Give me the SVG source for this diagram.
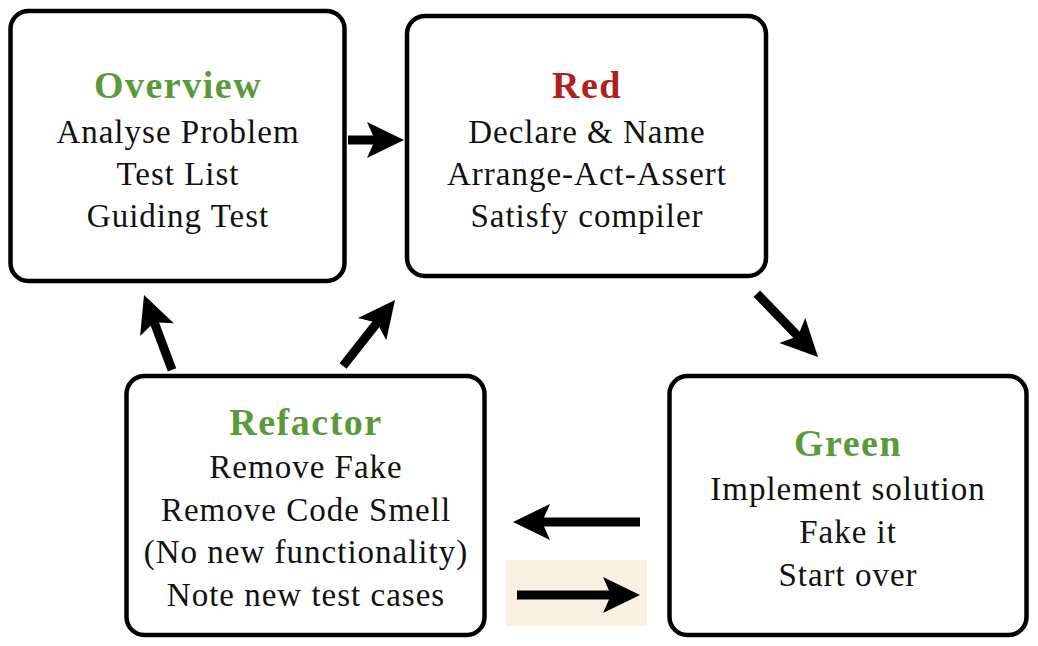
<svg xmlns="http://www.w3.org/2000/svg" xmlns:xlink="http://www.w3.org/1999/xlink" width="1038" height="646" viewBox="0 0 1038 646">
<style>
.box{fill:#fff;stroke:#000;stroke-width:4.5}
.t{font-family:"Liberation Serif","Times New Roman",serif;font-size:33px;letter-spacing:1px;text-anchor:middle;fill:#111}
.h{font-family:"Liberation Serif","Times New Roman",serif;font-size:38px;font-weight:bold;letter-spacing:1.5px;text-anchor:middle}
.g{fill:#5B9A3B}
.r{fill:#B01E1E}
.shaft{stroke:#000;stroke-width:9;fill:none}
</style>
<defs>
<polygon id="head" points="0,0 -37,-18 -29,0 -37,18" fill="#000"/>
</defs>
<rect width="1038" height="646" fill="#fff"/>
<g id="overview">
<rect class="box" x="10.5" y="11" width="334" height="270" rx="18"/>
<text class="h g" x="178" y="98">Overview</text>
<text class="t" x="178" y="143">Analyse Problem</text>
<text class="t" x="178" y="185">Test List</text>
<text class="t" x="178" y="227">Guiding Test</text>
</g>
<g id="red">
<rect class="box" x="407" y="16" width="359" height="260" rx="18"/>
<text class="h r" x="587" y="98">Red</text>
<text class="t" x="587" y="143">Declare &amp; Name</text>
<text class="t" x="587" y="185">Arrange-Act-Assert</text>
<text class="t" x="587" y="227">Satisfy compiler</text>
</g>
<g id="refactor">
<rect class="box" x="126.5" y="376" width="358" height="259" rx="18"/>
<text class="h g" x="306" y="435">Refactor</text>
<text class="t" x="306" y="478">Remove Fake</text>
<text class="t" x="306" y="521">Remove Code Smell</text>
<text class="t" x="306" y="563">(No new functionality)</text>
<text class="t" x="306" y="606">Note new test cases</text>
</g>
<g id="green">
<rect class="box" x="669.5" y="376" width="357" height="259" rx="18"/>
<text class="h g" x="848" y="456">Green</text>
<text class="t" x="848" y="500">Implement solution</text>
<text class="t" x="848" y="543">Fake it</text>
<text class="t" x="848" y="586">Start over</text>
</g>
<g id="connectors">
<rect x="506" y="560" width="141" height="66" fill="#FAF0E1"/>
<g transform="translate(404,140)"><line class="shaft" x1="-56" y1="0" x2="-28" y2="0"/><use xlink:href="#head"/></g>
<g transform="translate(818,357) rotate(46)"><line class="shaft" x1="-88" y1="0" x2="-28" y2="0"/><use xlink:href="#head"/></g>
<g transform="translate(144,295) rotate(-110.5)"><line class="shaft" x1="-80" y1="0" x2="-28" y2="0"/><use xlink:href="#head"/></g>
<g transform="translate(395,300) rotate(-51.8)"><line class="shaft" x1="-84" y1="0" x2="-28" y2="0"/><use xlink:href="#head"/></g>
<g transform="translate(513,522) rotate(180)"><line class="shaft" x1="-127" y1="0" x2="-28" y2="0"/><use xlink:href="#head"/></g>
<g transform="translate(640,595)"><line class="shaft" x1="-123" y1="0" x2="-28" y2="0"/><use xlink:href="#head"/></g>
</g>
</svg>
